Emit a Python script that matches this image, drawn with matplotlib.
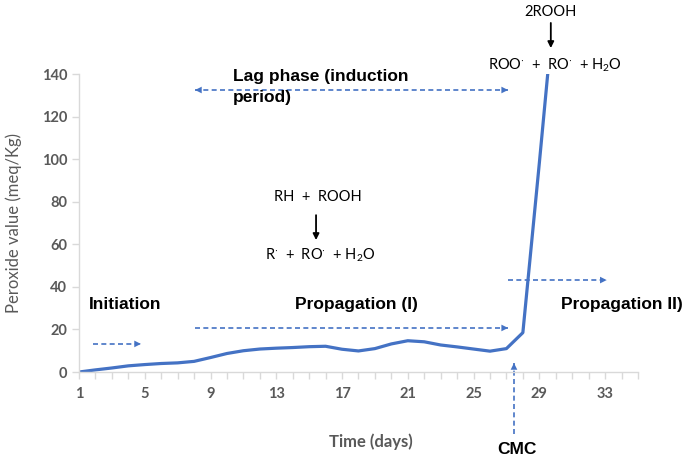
import numpy as np
import matplotlib
matplotlib.use('Agg')
import matplotlib.pyplot as plt

days = list(range(1, 31))
peroxide = [0, 1.0, 1.9, 2.9, 3.5, 4.0, 4.3, 5.0, 6.8, 8.7,
            10.0, 10.8, 11.2, 11.5, 11.9, 12.1, 10.7, 9.9, 11.0, 13.2,
            14.7, 14.2, 12.7, 11.8, 10.8, 9.8, 11.0, 18.5, 98, 180]
xtick_vals = [1, 5, 9, 13, 17, 21, 25, 29, 33]
ytick_vals = [0, 20, 40, 60, 80, 100, 120, 140]

blue = '#4472C4'
gray = '#595959'
axcol = '#D9D9D9'

plt.rcParams['font.family'] = ['Lato', 'DejaVu Sans']
plt.rcParams['mathtext.fontset'] = 'custom'
plt.rcParams['mathtext.rm'] = 'Lato'
plt.rcParams['mathtext.it'] = 'Lato:italic'

fig = plt.figure(figsize=(6.85, 4.59), dpi=100)
ax = fig.add_axes([0.1153, 0.1895, 0.816, 0.6492])

ax.plot(days, peroxide, color=blue, lw=2.3, solid_joinstyle='round',
        solid_capstyle='round')
ax.set_xlim(1, 35)
ax.set_ylim(0, 140)

for s in ['top', 'right']:
    ax.spines[s].set_visible(False)
for s in ['left', 'bottom']:
    ax.spines[s].set_color(axcol)
    ax.spines[s].set_linewidth(1)

ax.set_xticks(range(1, 36), minor=True)
ax.set_xticks(xtick_vals)
ax.set_yticks(ytick_vals)
ax.tick_params(axis='both', which='both', color=axcol, length=5, width=1,
               labelcolor=gray, labelsize=10.5)
ax.tick_params(axis='x', which='major', pad=6)
for lab in ax.get_xticklabels() + ax.get_yticklabels():
    lab.set_fontweight('bold')

ax.set_xlabel('Time (days)', color=gray, fontsize=12, fontweight='bold')
ax.set_ylabel('Peroxide value (meq/Kg)', color=gray, fontsize=12)
ax.xaxis.set_label_coords(0.523, -0.205)
ax.yaxis.set_label_coords(-0.102, 0.5)


def dashed_arrow(x0, y0, x1, y1, both=False):
    ax.plot([x0, x1], [y0, y1], color=blue, lw=1.2, ls=(0, (3, 2)),
            clip_on=False)
    ends = [((x1, y1), (x0, y0))]
    if both:
        ends.append(((x0, y0), (x1, y1)))
    for tip, base in ends:
        dx, dy = tip[0] - base[0], tip[1] - base[1]
        ax.annotate('', xy=tip, xytext=(tip[0] - dx * 0.02, tip[1] - dy * 0.02),
                    arrowprops=dict(arrowstyle='-|>', color=blue, lw=0,
                                    mutation_scale=12, shrinkA=0, shrinkB=0),
                    annotation_clip=False)


def black_arrow(x, y0, y1):
    ax.annotate('', xy=(x, y1), xytext=(x, y0),
                arrowprops=dict(arrowstyle='-|>', color='black', lw=1.3,
                                mutation_scale=9, shrinkA=0, shrinkB=0),
                annotation_clip=False)


bold = dict(fontsize=12.5, fontweight='bold', color='black',
            family=['Liberation Sans', 'DejaVu Sans'])

# lag phase
dashed_arrow(8.06, 132.5, 27.1, 132.5, both=True)
ax.text(10.37, 142.3, 'Lag phase (induction\nperiod)', ha='left', va='top',
        linespacing=1.45, **bold)

# initiation
ax.text(1.61, 31.5, 'Initiation', ha='left', va='center', **bold)
dashed_arrow(1.85, 13.2, 4.77, 13.2)

# propagation I
ax.text(17.85, 31.5, 'Propagation (I)', ha='center', va='center', **bold)
dashed_arrow(8.06, 20.7, 27.1, 20.7)

# propagation II
ax.text(30.3, 31.5, 'Propagation II)', ha='left', va='center', **bold)
dashed_arrow(27.1, 43.2, 33.1, 43.2)

# CMC
dashed_arrow(27.46, -29.1, 27.46, 4.2)
ax.text(27.64, -36.2, 'CMC', ha='center', va='center', **bold)

# reactions
ax.text(15.54, 82.2, 'RH  +  ROOH', ha='center', va='center', fontsize=10.5)
black_arrow(15.42, 73.7, 62.0)
ax.text(15.66, 55.0, r'R$^{\cdot}$  +  RO$^{\cdot}$  + H$_{2}$O',
        ha='center', va='center', fontsize=10.5)

ax.text(29.7, 169.0, '2ROOH', ha='center', va='center', fontsize=10.5)
black_arrow(29.7, 164.0, 152.2)
ax.text(29.95, 144.2, r'ROO$^{\cdot}$  +  RO$^{\cdot}$  + H$_{2}$O',
        ha='center', va='center', fontsize=10.5)

plt.savefig('out.png', dpi=100)
